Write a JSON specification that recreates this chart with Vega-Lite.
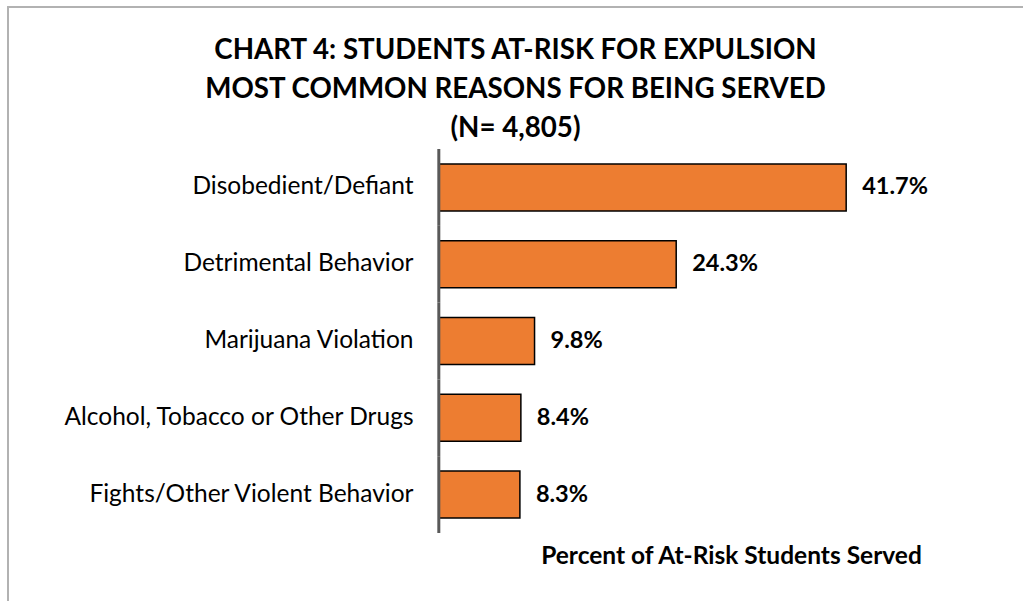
{
  "$schema": "https://vega.github.io/schema/vega-lite/v6.json",
  "width": 1015,
  "height": 384,
  "autosize": {"type": "none"},
  "padding": {"left": 8, "top": 149, "right": 0, "bottom": 68},
  "background": "white",
  "config": {
    "view": {"stroke": null},
    "font": "Lato",
    "tick": {"bandSize": 1, "thickness": 3}
  },
  "title": {
    "text": ["CHART 4: STUDENTS AT-RISK FOR EXPULSION", "MOST COMMON REASONS FOR BEING SERVED", "(N= 4,805)"],
    "fontSize": 27.7,
    "font": "Lato",
    "fontWeight": "bold",
    "color": "#000000",
    "lineHeight": 39,
    "anchor": "middle",
    "frame": "group",
    "offset": -136,
    "dx": 0
  },
  "data": {
    "values": [
      {"reason": "Disobedient/Defiant", "pct": 0.417},
      {"reason": "Detrimental Behavior", "pct": 0.243},
      {"reason": "Marijuana Violation", "pct": 0.098},
      {"reason": "Alcohol, Tobacco or Other Drugs", "pct": 0.084},
      {"reason": "Fights/Other Violent Behavior", "pct": 0.083}
    ]
  },
  "resolve": {"scale": {"y": "independent"}, "axis": {"y": "independent"}},
  "layer": [
    {
      "mark": {"type": "rect", "filled": false, "stroke": "#b3b3b3", "strokeWidth": 1.5},
      "encoding": {
        "x": {"datum": -0.441, "type": "quantitative"},
        "x2": {"datum": 0.7},
        "y": {"datum": 1.3698, "type": "quantitative", "scale": {"domain": [0, 1], "nice": false, "zero": false}, "axis": null},
        "y2": {"datum": -0.3}
      }
    },
    {
      "encoding": {
        "y": {
          "field": "reason",
          "type": "nominal",
          "sort": null,
          "scale": {"paddingInner": 0, "paddingOuter": 0},
          "axis": {
            "title": null,
            "domain": false,
            "ticks": false,
            "labelFontSize": 24.5,
            "labelColor": "#000000",
            "labelFont": "Lato",
            "offset": -431,
            "labelPadding": 26,
            "labelLimit": 0
          }
        }
      },
      "layer": [
        {
          "mark": {"type": "bar", "fill": "#ED7D31", "stroke": "#000000", "strokeWidth": 1.5, "height": {"band": 0.612}},
          "encoding": {
            "x": {
              "field": "pct",
              "type": "quantitative",
              "scale": {"domain": [-0.441, 0.598], "nice": false},
              "axis": {
                "title": "Percent of At-Risk Students Served",
                "labels": false,
                "ticks": false,
                "domain": false,
                "grid": false,
                "titleFontSize": 24.5,
                "titleFontWeight": "bold",
                "titleFont": "Lato",
                "titleColor": "#000000",
                "titleX": 723,
                "titleY": 30,
                "titleBaseline": "alphabetic",
                "titleAlign": "center"
              }
            }
          }
        },
        {
          "mark": {"type": "tick", "color": "#595959", "opacity": 1},
          "encoding": {
            "x": {"datum": 0, "type": "quantitative"}
          }
        },
        {
          "mark": {"type": "text", "align": "left", "dx": 16, "fontWeight": "bold", "fontSize": 23.5, "font": "Lato", "color": "#000000"},
          "encoding": {
            "x": {"field": "pct", "type": "quantitative"},
            "text": {"field": "pct", "type": "quantitative", "format": ".1%"}
          }
        }
      ]
    }
  ]
}
